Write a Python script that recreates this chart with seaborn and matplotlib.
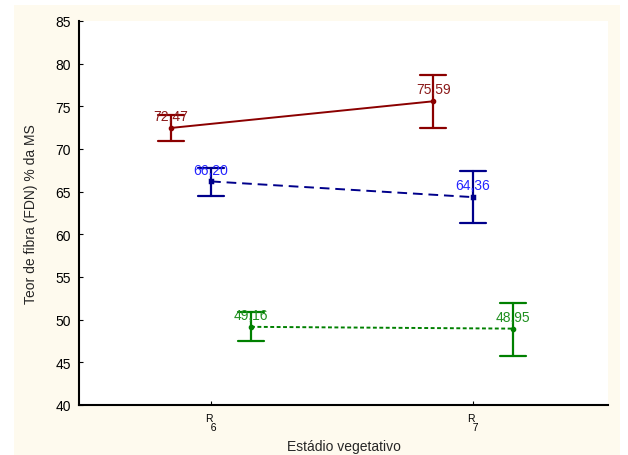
import numpy as np
import pandas as pd
import matplotlib
matplotlib.use("Agg")
import matplotlib.pyplot as plt
import seaborn as sns
from matplotlib.patches import Rectangle

estadios = ["R6", "R7"]
tick_labels = ["R\n  6", "R\n  7"]
series = ["A", "B", "C"]

media = {"A": [72.47, 75.59], "B": [66.20, 64.36], "C": [49.16, 48.95]}
lim_inf = {"A": [70.90, 72.45], "B": [64.55, 61.30], "C": [47.50, 45.80]}
lim_sup = {"A": [74.00, 78.70], "B": [67.80, 67.40], "C": [50.90, 52.00]}
rotulos = {"A": ["72,47", "75,59"], "B": ["66,20", "64,36"], "C": ["49,16", "48,95"]}

line_colors = ["#8b0000", "#00008b", "#008000"]
text_colors = ["#8b1a1a", "#2424ff", "#1f8f1f"]

# three rows per group: lower limit, mean, upper limit
rows = []
for s in series:
    for i, e in enumerate(estadios):
        for v in (lim_inf[s][i], media[s][i], lim_sup[s][i]):
            rows.append({"Estadio": e, "Serie": s, "FDN": v})
df = pd.DataFrame(rows)

sns.set_style("ticks")
plt.rcParams["font.family"] = ["Liberation Sans", "DejaVu Sans"]

fig = plt.figure(figsize=(6.28, 4.56), dpi=100, facecolor="white")
fig.patches.append(Rectangle((14 / 628, 0), (620 - 14) / 628, (456 - 6) / 456,
                             transform=fig.transFigure, facecolor="#fefaee",
                             edgecolor="none", zorder=-10))
ax = fig.add_axes([79 / 628, 50 / 456, (608 - 79) / 628, (406 - 22) / 456])
ax.set_facecolor("white")

dodge = 0.305
sns.pointplot(data=df, x="Estadio", y="FDN", hue="Serie", order=estadios,
              hue_order=series, palette=line_colors, estimator="median",
              errorbar=lambda v: (v.min(), v.max()), dodge=dodge, capsize=0.10,
              markers=["o", "s", "o"], markersize=3,
              linestyles=["-", (0, (5, 3)), (0, (2, 1.3))], linewidth=1.4,
              err_kws={"linewidth": 1.6, "linestyle": "-"},
              legend=False, ax=ax)

step = dodge / (len(series) - 1)
for k, s in enumerate(series):
    off = -dodge / 2 + step * k
    for i in range(len(estadios)):
        ax.annotate(rotulos[s][i], (i + off, media[s][i]), xytext=(0, 8.5),
                    textcoords="offset points", ha="center", va="center",
                    fontsize=10, color=text_colors[k])

ax.set_ylim(40, 85)
ax.set_yticks(np.arange(40, 86, 5))
ax.set_xlim(-0.504, 1.515)
ax.set_xticks(range(len(estadios)))
ax.set_xticklabels(tick_labels, fontsize=7.5, linespacing=0.85, multialignment="left")
ax.tick_params(axis="y", direction="in", length=3, labelsize=10, pad=6, colors="black")
ax.tick_params(axis="x", direction="in", length=3, pad=6, colors="black")
for side in ["top", "right"]:
    ax.spines[side].set_visible(False)
for side in ["left", "bottom"]:
    ax.spines[side].set_linewidth(1.5)
    ax.spines[side].set_color("black")

ax.set_xlabel("Estádio vegetativo", fontsize=10, labelpad=5)
ax.set_ylabel("Teor de fibra (FDN) % da MS", fontsize=10, labelpad=12)

fig.savefig("out.png", dpi=100, facecolor=fig.get_facecolor())
